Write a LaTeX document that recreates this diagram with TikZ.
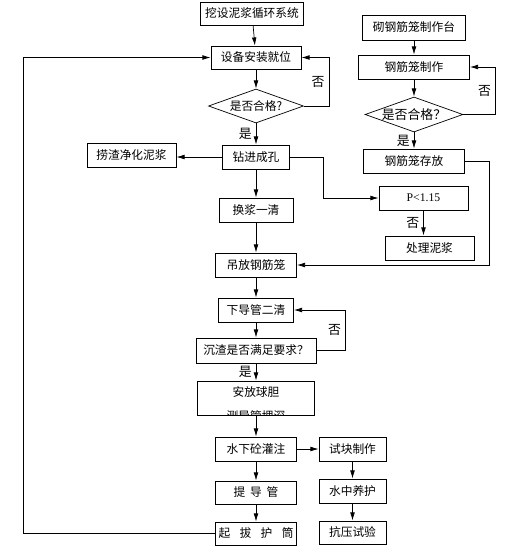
\documentclass[tikz,border=0pt]{standalone}
\usepackage{fontspec}
\setmainfont{Noto Sans CJK SC}
\newfontfamily\latinfont{Liberation Serif}
\usetikzlibrary{shapes.geometric,arrows.meta}
\begin{document}
\begin{tikzpicture}[x=0.03cm,y=-0.03cm,line width=0.6pt,>={Latex[length=7pt,width=4pt]},
		every node/.style={font=\fontsize{10}{12}\selectfont},
		box/.style 2 args={draw,inner sep=0pt,minimum width=#1*0.03cm,minimum height=#2*0.03cm},
		decide/.style 2 args={draw,diamond,aspect=2.8,inner sep=0pt,minimum width=#1*0.03cm,minimum height=#2*0.03cm},
		tag/.style={font=\fontsize{11}{13}\selectfont}]
		\useasboundingbox (0,0) rectangle (523,547);
		
		\node[box={103}{23}] (top) at (252,13.5) {挖设泥浆循环系统};
		\node[box={90}{23}] (install) at (256,57.5) {设备安装就位};
		\node[decide={95}{34}] (chk1) at (256,106) {是否合格?};
		\node[box={67}{24}] (drill) at (256,157) {钻进成孔};
		\node[box={89}{24}] (clean) at (131.5,155) {捞渣净化泥浆};
		\node[box={74}{24}] (swap) at (256,210) {换浆一清};
		\node[box={81}{24}] (hang) at (256,265) {吊放钢筋笼};
		\node[box={75}{24}] (pipe) at (256,310) {下导管二清};
		\node[box={120}{25}] (chk2) at (256,350.5) {沉渣是否满足要求？};
		\node[box={117}{34}] (ball) at (256,398) {};
		\begin{scope}
			\clip (ball.south west) rectangle (ball.north east);
			\node[inner sep=0pt,anchor=north,align=center,font=\fontsize{10}{20}\selectfont] (balltext) at ([yshift=-5pt]ball.north) {安放球胆\\测导管埋深};
		\end{scope}
		\node[box={81}{24}] (pour) at (256,449) {水下砼灌注};
		\node[box={81}{23}] (lift) at (256,492.5) {提\hspace{0.4em}导\hspace{0.4em}管};
		\node[box={81}{23}] (pull) at (256,533.5) {起\hspace{0.8em}拔\hspace{0.8em}护\hspace{0.8em}筒};
		
		\node[box={89}{24}] (press) at (423.5,198) {\latinfont P<1.15};
		\node[box={89}{24}] (mud) at (429.5,248) {处理泥浆};
		
		\node[box={103}{25}] (table) at (414,27.5) {砌钢筋笼制作台};
		\node[box={111}{24}] (make) at (414,67) {钢筋笼制作};
		\node[decide={96}{35},font=\fontsize{11}{13}\selectfont] (chk3) at (414,114.5) {是否合格？};
		\node[box={101}{24}] (store) at (414,161) {钢筋笼存放};
		
		\node[box={67}{24}] (sample) at (352.5,449) {试块制作};
		\node[box={67}{24}] (cure) at (352.5,491) {水中养护};
		\node[box={67}{23}] (test) at (352.5,532.5) {抗压试验};
		
		\coordinate (drillturn) at (323,157);
		\coordinate (storeturn) at (489,161);
		\coordinate (loopturn) at (23,533.5);
		
		\draw[->] (top) -- (install);
		\draw[->] (install) -- (chk1);
		\draw[->] (chk1) -- node[tag,left] {是} (drill);
		\draw[->] (chk1.east) -- ++(25,0) |- node[tag,pos=0.25,left] {否} (install.east);
		\draw[->] (drill.west) -- (drill.west -| clean.east);
		\draw[->] (drill) -- (swap);
		\draw[->] (drill.east) -- (drillturn) |- (press.west);
		\draw[->] (press.south) -- node[tag,left] {否} (press.south |- mud.north);
		\draw[->] (swap) -- (hang);
		\draw[->] (hang) -- (pipe);
		\draw[->] (pipe) -- (chk2);
		\draw[->] (chk2.east) -- ++(29,0) |- node[tag,pos=0.25,left] {否} (pipe.east);
		\draw[->] (chk2) -- node[tag,left] {是} (ball);
		\draw[->] (ball) -- (pour);
		\draw[->] (pour) -- (lift);
		\draw[->] (lift) -- (pull);
		\draw[->] (pull.west) -- (loopturn) |- (install.west);
		\draw[->] (pour) -- (sample);
		\draw[->] (sample) -- (cure);
		\draw[->] (cure) -- (test);
		
		\draw[->] (table) -- (make);
		\draw[->] (make) -- (chk3);
		\draw[->] (chk3) -- node[tag,left] {是} (store);
		\draw[->] (chk3.east) -- ++(32,0) |- node[tag,pos=0.25,left] {否} (make.east);
		\draw[->] (store.east) -- (storeturn) |- (hang.east);
	\end{tikzpicture}
\end{document}
